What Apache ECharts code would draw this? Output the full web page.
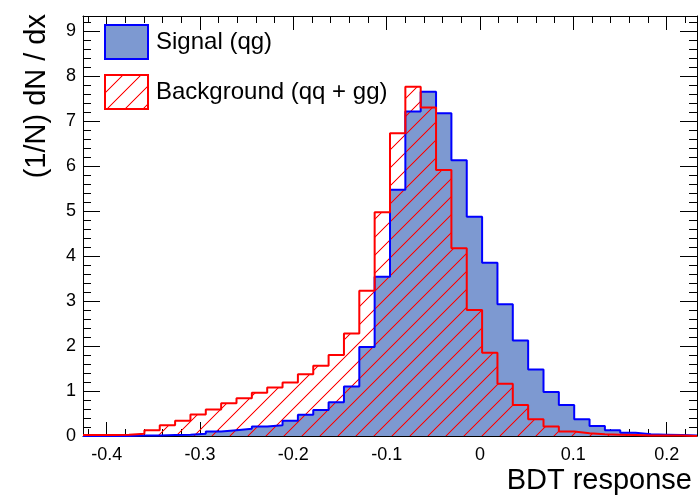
<!DOCTYPE html>
<html>
<head>
<meta charset="utf-8">
<script src="https://cdn.jsdelivr.net/npm/echarts@6/dist/echarts.min.js"></script>
<style>html,body{margin:0;padding:0;background:#fff}#c{width:698px;height:499px}</style>
</head>
<body>
<div id="c"></div>
<script>
// ---- data ----
const xMin = -0.4254;
const xMax = 0.2325;
const yMax = 9.333;
const seriesNames = ['Signal (qg)', 'Background (qq + gg)'];
const xTitle = 'BDT response';
const yTitle = '(1/N) dN / dx';
// 40 equal bins spanning [xMin, xMax]
const signal = [0.00, 0.00, 0.00, 0.01, 0.01, 0.02, 0.03, 0.05, 0.10, 0.13,
                0.16, 0.21, 0.24, 0.34, 0.47, 0.58, 0.75, 1.10, 1.98, 3.54,
                5.47, 7.21, 7.65, 7.17, 6.13, 4.87, 3.85, 2.93, 2.12, 1.48,
                0.98, 0.69, 0.37, 0.22, 0.13, 0.07, 0.04, 0.03, 0.02, 0.01];
const background = [0.02, 0.02, 0.03, 0.05, 0.13, 0.24, 0.34, 0.48, 0.59, 0.73,
                    0.84, 0.96, 1.08, 1.19, 1.37, 1.56, 1.80, 2.28, 3.23, 4.97,
                    6.73, 7.76, 7.30, 5.91, 4.17, 2.80, 1.85, 1.16, 0.69, 0.37,
                    0.21, 0.10, 0.06, 0.04, 0.03, 0.02, 0.01, 0.01, 0.01, 0.00];

// ---- helpers ----
function stepData(vals) {
  const w = (xMax - xMin) / vals.length;
  const d = vals.map((v, i) => [xMin + i * w, v]);
  d.push([xMax, vals[vals.length - 1]]);
  return d;
}
// red diagonal hatch tile built pixel by pixel
const TILE = 18;
const hatch = document.createElement('canvas');
hatch.width = TILE; hatch.height = TILE;
(function () {
  const ctx = hatch.getContext('2d');
  const img = ctx.createImageData(TILE, TILE);
  for (let y = 0; y < TILE; y++) {
    for (let x = 0; x < TILE; x++) {
      const i = (y * TILE + x) * 4;
      let d = (x + y - (TILE - 1)) % TILE;
      if (d < 0) d += TILE;
      let a = 0;
      if (d === 0) a = 255;
      else if (d === 1 || d === TILE - 1) a = 60;
      img.data[i] = 255; img.data[i + 1] = 0; img.data[i + 2] = 0; img.data[i + 3] = a;
    }
  }
  ctx.putImageData(img, 0, 0);
})();
const hatchFill = { image: hatch, repeat: 'repeat' };
const FONT = '"Liberation Sans", Arial, Helvetica, sans-serif';
const blueFill = '#7d99d1';

function xAxisCfg(pos, labels) {
  return {
    type: 'value', position: pos, min: xMin, max: xMax,
    axisLine: { show: true, onZero: false, lineStyle: { color: '#000', width: 1 } },
    axisTick: { show: true, inside: true, length: 14, lineStyle: { color: '#000', width: 1 } },
    minorTick: { show: true, splitNumber: 5, length: 7, lineStyle: { color: '#000', width: 1 } },
    splitLine: { show: false },
    axisLabel: { show: labels, fontSize: 18, margin: 10, color: '#000', fontFamily: FONT,
                 showMinLabel: false, showMaxLabel: false }
  };
}
function yAxisCfg(pos, labels) {
  return {
    type: 'value', position: pos, min: 0, max: yMax, interval: 1,
    axisLine: { show: true, onZero: false, lineStyle: { color: '#000', width: 1 } },
    axisTick: { show: true, inside: true, length: 17, lineStyle: { color: '#000', width: 1 } },
    minorTick: { show: true, splitNumber: 5, length: 8, lineStyle: { color: '#000', width: 1 } },
    splitLine: { show: false },
    axisLabel: { show: labels, fontSize: 18, margin: 7, color: '#000', fontFamily: FONT,
                 showMaxLabel: false }
  };
}

const chart = echarts.init(document.getElementById('c'), null, { renderer: 'canvas' });
chart.setOption({
  backgroundColor: '#fff',
  animation: false,
  grid: { left: 83, right: 1, top: 16, bottom: 63 },
  xAxis: [xAxisCfg('bottom', true), xAxisCfg('top', false)],
  yAxis: [yAxisCfg('left', true), yAxisCfg('right', false)],
  legend: {
    orient: 'vertical', left: 104, top: 24, padding: 0,
    itemWidth: 43, itemHeight: 34, itemGap: 14,
    textStyle: { fontSize: 24, color: '#000', fontFamily: FONT, padding: [0, 0, 0, 3] },
    data: [
      { name: seriesNames[0], icon: 'rect',
        itemStyle: { color: blueFill, borderColor: '#0000ff', borderWidth: 2 } },
      { name: seriesNames[1], icon: 'rect',
        itemStyle: { color: hatchFill, borderColor: '#ff0000', borderWidth: 2 } }
    ]
  },
  graphic: [
    { type: 'text', right: 6, top: 466,
      style: { text: xTitle, fontSize: 29, fill: '#000', fontFamily: FONT } },
    { type: 'text', x: 37, y: 14, rotation: Math.PI / 2,
      style: { text: yTitle, fontSize: 29, fill: '#000', fontFamily: FONT,
               align: 'right', verticalAlign: 'middle' } }
  ],
  series: [
    { name: seriesNames[0], type: 'line', step: 'end', symbol: 'none',
      data: stepData(signal),
      lineStyle: { color: '#0000ff', width: 2 },
      itemStyle: { color: blueFill },
      areaStyle: { color: blueFill, opacity: 1 } },
    { name: seriesNames[1], type: 'line', step: 'end', symbol: 'none',
      data: stepData(background),
      lineStyle: { color: '#ff0000', width: 2 },
      itemStyle: { color: '#ff0000' },
      areaStyle: { color: hatchFill, opacity: 1 } }
  ]
});
</script>
</body>
</html>
